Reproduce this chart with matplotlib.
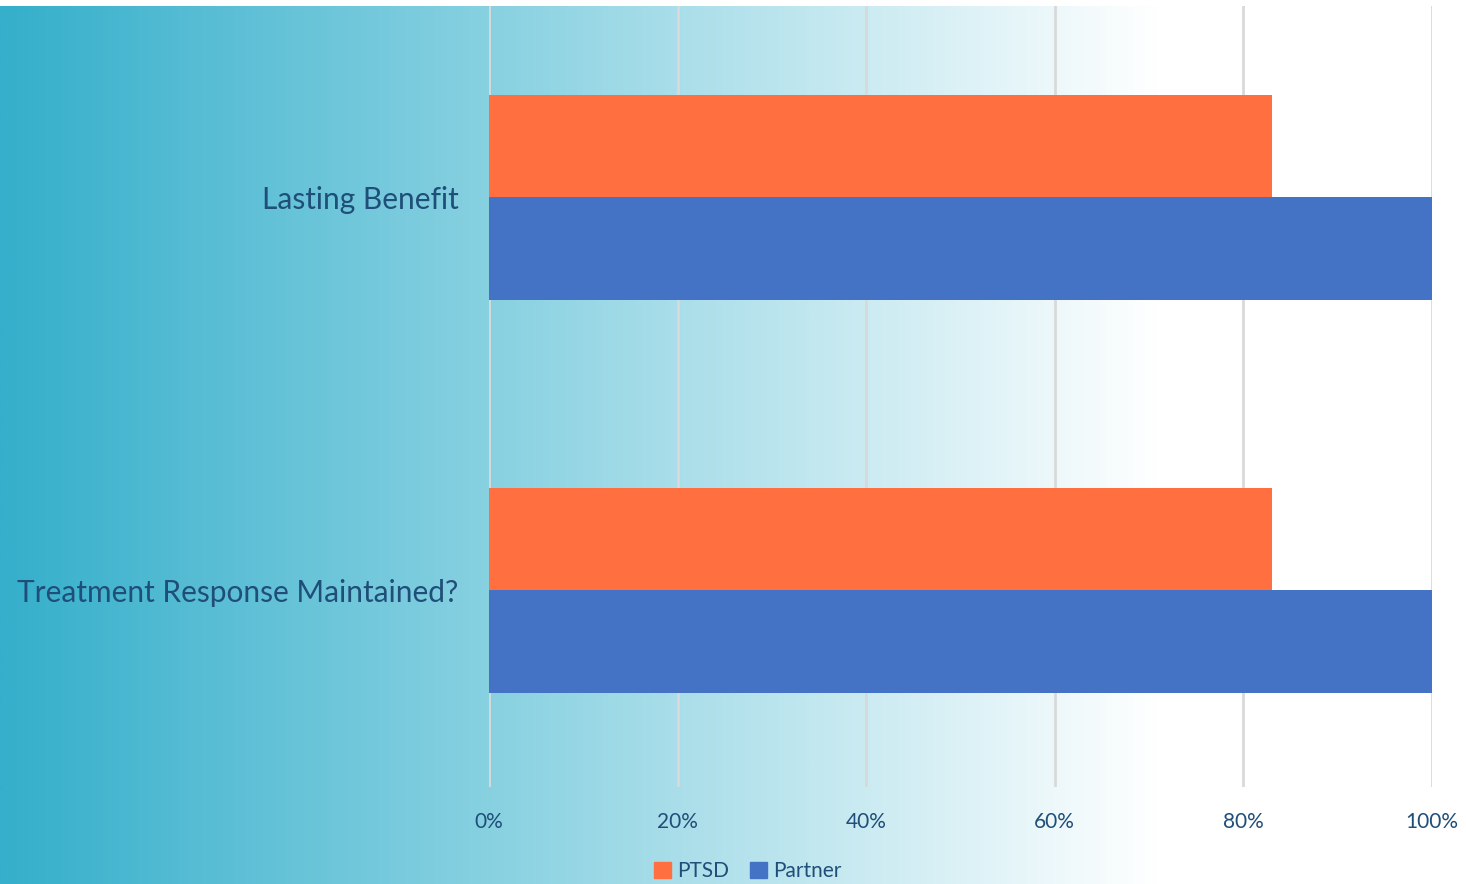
import numpy as np
import matplotlib.pyplot as plt
from matplotlib.colors import LinearSegmentedColormap
from matplotlib.patches import Patch

# data
categories = ['Treatment Response Maintained?', 'Lasting Benefit']
ptsd = [0.83, 0.83]
partner = [1.00, 1.00]
xticks = [0, 0.2, 0.4, 0.6, 0.8, 1.0]
xtick_labels = ['0%', '20%', '40%', '60%', '80%', '100%']

text_color = '#1F4E79'
orange = '#FF6F3F'
blue = '#4472C4'

plt.rcParams['font.family'] = ['Lato', 'DejaVu Sans']

fig = plt.figure(figsize=(14.66, 8.84), dpi=100)

# gradient background (teal on the left fading to white)
bg = fig.add_axes([0, 0, 1, 1 - 6 / 884], zorder=-10)
cmap = LinearSegmentedColormap.from_list('bg', [(0, '#35AFCB'), (0.335, '#88D1E1'),
                                                (0.79, '#FFFFFF'), (1, '#FFFFFF')])
grad = np.linspace(0, 1, 512).reshape(1, -1)
bg.imshow(grad, aspect='auto', cmap=cmap, extent=[0, 1, 0, 1])
bg.axis('off')

ax = fig.add_axes([489 / 1466, 1 - 787 / 884, (1432 - 489) / 1466, (787 - 6) / 884])
ax.patch.set_alpha(0)

y = np.arange(len(categories))
h = 0.26
ax.barh(y + h / 2, ptsd, height=h, color=orange, label='PTSD', zorder=3)
ax.barh(y - h / 2, partner, height=h, color=blue, label='Partner', zorder=3)

ax.set_xlim(0, 1)
ax.set_ylim(-0.5, 1.487)
ax.set_xticks(xticks)
ax.set_xticklabels(xtick_labels)
ax.set_yticks(y)
ax.set_yticklabels(categories, fontsize=21.5, color=text_color)
ax.tick_params(axis='x', length=0, pad=18, labelsize=15, labelcolor=text_color)
ax.tick_params(axis='y', length=0, pad=22)
ax.grid(axis='x', color='#D9D9D9', linewidth=2, zorder=0)
for s in ax.spines.values():
    s.set_visible(False)

handles = [Patch(color=orange, label='PTSD'), Patch(color=blue, label='Partner')]
fig.legend(handles=handles, loc='center', bbox_to_anchor=(748 / 1466, 1 - 871 / 884),
           ncol=2, frameon=False, fontsize=15, handlelength=0.8, handleheight=0.8,
           handletextpad=0.3, columnspacing=1.0, labelcolor=text_color)

fig.savefig('out.png', dpi=100)
